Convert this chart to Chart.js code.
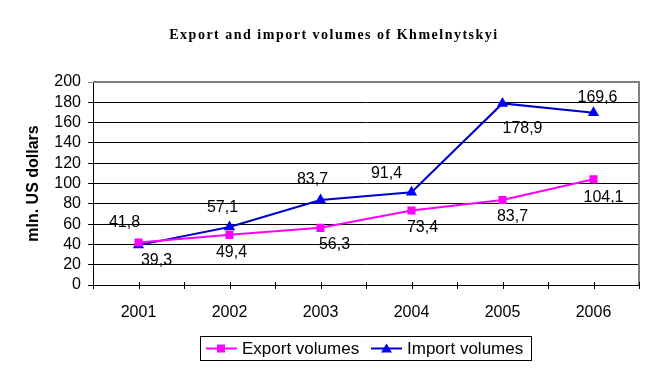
<!DOCTYPE html>
<html>
<head>
<meta charset="utf-8">
<script src="https://cdn.jsdelivr.net/npm/chart.js@4"></script>
<style>
  body { margin: 0; background: #fff; }
  canvas { display: block; }
</style>
</head>
<body>
<canvas id="chart" width="657" height="372"></canvas>
<script>
const years = ['2001', '2002', '2003', '2004', '2005', '2006'];
const exportVolumes = [41.8, 49.4, 56.3, 73.4, 83.7, 104.1];
const importVolumes = [39.3, 57.1, 83.7, 91.4, 178.9, 169.6];
const yTicks = [0, 20, 40, 60, 80, 100, 120, 140, 160, 180, 200];

// where each value label sits relative to its point (dx, dy)
const exportLabelOffsets = [[-14, -20], [2, 18], [14, 17], [11, 17], [10, 17], [10, 18]];
const importLabelOffsets = [[18, 15], [-7, -19], [-8, -20], [-25, -19], [20, 25], [4, -15]];

const exportColor = '#ff00ff';
const importLine = '#0000cc';
const importMarker = '#0000ff';

const fmt = v => v.toFixed(1).replace('.', ',');

const extras = {
  id: 'extras',
  afterDatasetsDraw(chart) {
    const ctx = chart.ctx;
    const area = chart.chartArea;
    const x = chart.scales.x;

    ctx.save();
    // gray frame on top and right
    ctx.strokeStyle = '#808080';
    ctx.lineWidth = 2;
    ctx.beginPath();
    ctx.moveTo(area.left, area.top);
    ctx.lineTo(area.right, area.top);
    ctx.lineTo(area.right, area.bottom);
    ctx.stroke();

    // x tick marks at centers and boundaries
    ctx.strokeStyle = '#000';
    ctx.lineWidth = 1;
    const step = x.getPixelForValue(1) - x.getPixelForValue(0);
    for (let i = 0; i <= years.length * 2; i++) {
      const px = Math.round(area.left + i * step / 2) + 0.5;
      ctx.beginPath();
      ctx.moveTo(px, area.bottom - 3);
      ctx.lineTo(px, area.bottom + 4);
      ctx.stroke();
    }

    // value labels
    ctx.font = '16px "Liberation Sans", Arial, sans-serif';
    ctx.fillStyle = '#000';
    ctx.textAlign = 'center';
    ctx.textBaseline = 'middle';
    const sets = [[exportVolumes, exportLabelOffsets], [importVolumes, importLabelOffsets]];
    sets.forEach(([vals, offs], di) => {
      chart.getDatasetMeta(di).data.forEach((pt, i) => {
        ctx.fillText(fmt(vals[i]), pt.x + offs[i][0], pt.y + offs[i][1]);
      });
    });

    // title
    ctx.font = 'bold 14px "Liberation Serif", "Times New Roman", serif';
    ctx.letterSpacing = '1.5px';
    ctx.fillText('Export and import volumes of Khmelnytskyi', 334, 35);
    ctx.letterSpacing = '0px';

    // y axis title
    ctx.save();
    ctx.translate(34, (area.top + area.bottom) / 2);
    ctx.rotate(-Math.PI / 2);
    ctx.font = 'bold 16px "Liberation Sans", Arial, sans-serif';
    ctx.fillText('mln. US dollars', 0, 0);
    ctx.restore();

    // legend
    ctx.strokeStyle = '#000';
    ctx.lineWidth = 1;
    ctx.strokeRect(200.5, 336.5, 331, 24);
    ctx.font = '17px "Liberation Sans", Arial, sans-serif';
    ctx.textAlign = 'left';
    const cy = 348.5;
    // export item
    ctx.strokeStyle = exportColor;
    ctx.lineWidth = 2;
    ctx.beginPath(); ctx.moveTo(206, cy); ctx.lineTo(237, cy); ctx.stroke();
    ctx.fillStyle = exportColor;
    ctx.fillRect(217, cy - 4, 8, 8);
    ctx.fillStyle = '#000';
    ctx.fillText('Export volumes', 242, cy + 1);
    // import item
    ctx.strokeStyle = importLine;
    ctx.beginPath(); ctx.moveTo(371, cy); ctx.lineTo(402, cy); ctx.stroke();
    ctx.fillStyle = importMarker;
    ctx.beginPath();
    ctx.moveTo(386.5, cy - 5); ctx.lineTo(392, cy + 4); ctx.lineTo(381, cy + 4);
    ctx.closePath(); ctx.fill();
    ctx.fillStyle = '#000';
    ctx.fillText('Import volumes', 407, cy + 1);
    ctx.restore();
  }
};

new Chart(document.getElementById('chart'), {
  type: 'line',
  data: {
    labels: years,
    datasets: [{
      label: 'Export volumes',
      data: exportVolumes,
      borderColor: exportColor,
      backgroundColor: exportColor,
      borderWidth: 2,
      pointStyle: 'rect',
      pointRadius: 5.7,
      pointBorderWidth: 0,
      tension: 0
    }, {
      label: 'Import volumes',
      data: importVolumes,
      borderColor: importLine,
      backgroundColor: importMarker,
      borderWidth: 2,
      pointStyle: 'triangle',
      pointRadius: 6.5,
      pointBorderWidth: 0,
      tension: 0
    }]
  },
  options: {
    responsive: false,
    animation: false,
    layout: { padding: { left: 0, top: 82, right: 18, bottom: 0 } },
    plugins: {
      legend: { display: false },
      title: { display: false },
      tooltip: { enabled: false }
    },
    scales: {
      x: {
        offset: true,
        grid: { display: false, drawTicks: false },
        border: { color: '#000', width: 1 },
        ticks: {
          color: '#000',
          padding: 18,
          maxRotation: 0,
          font: { family: '"Liberation Sans", Arial, sans-serif', size: 16 }
        },
        afterFit(scale) { scale.height = 87; }
      },
      y: {
        min: 0,
        max: 200,
        afterBuildTicks(scale) { scale.ticks = yTicks.map(v => ({ value: v })); },
        grid: {
          color: ctx => ctx.tick && ctx.tick.value === 200 ? '#808080' : '#000',
          lineWidth: 1,
          tickLength: 5
        },
        border: { color: '#000', width: 1 },
        ticks: {
          color: '#000',
          padding: 7,
          autoSkip: false,
          font: { family: '"Liberation Sans", Arial, sans-serif', size: 16 }
        },
        afterFit(scale) { scale.width = 93; }
      }
    }
  },
  plugins: [extras]
});
</script>
</body>
</html>
